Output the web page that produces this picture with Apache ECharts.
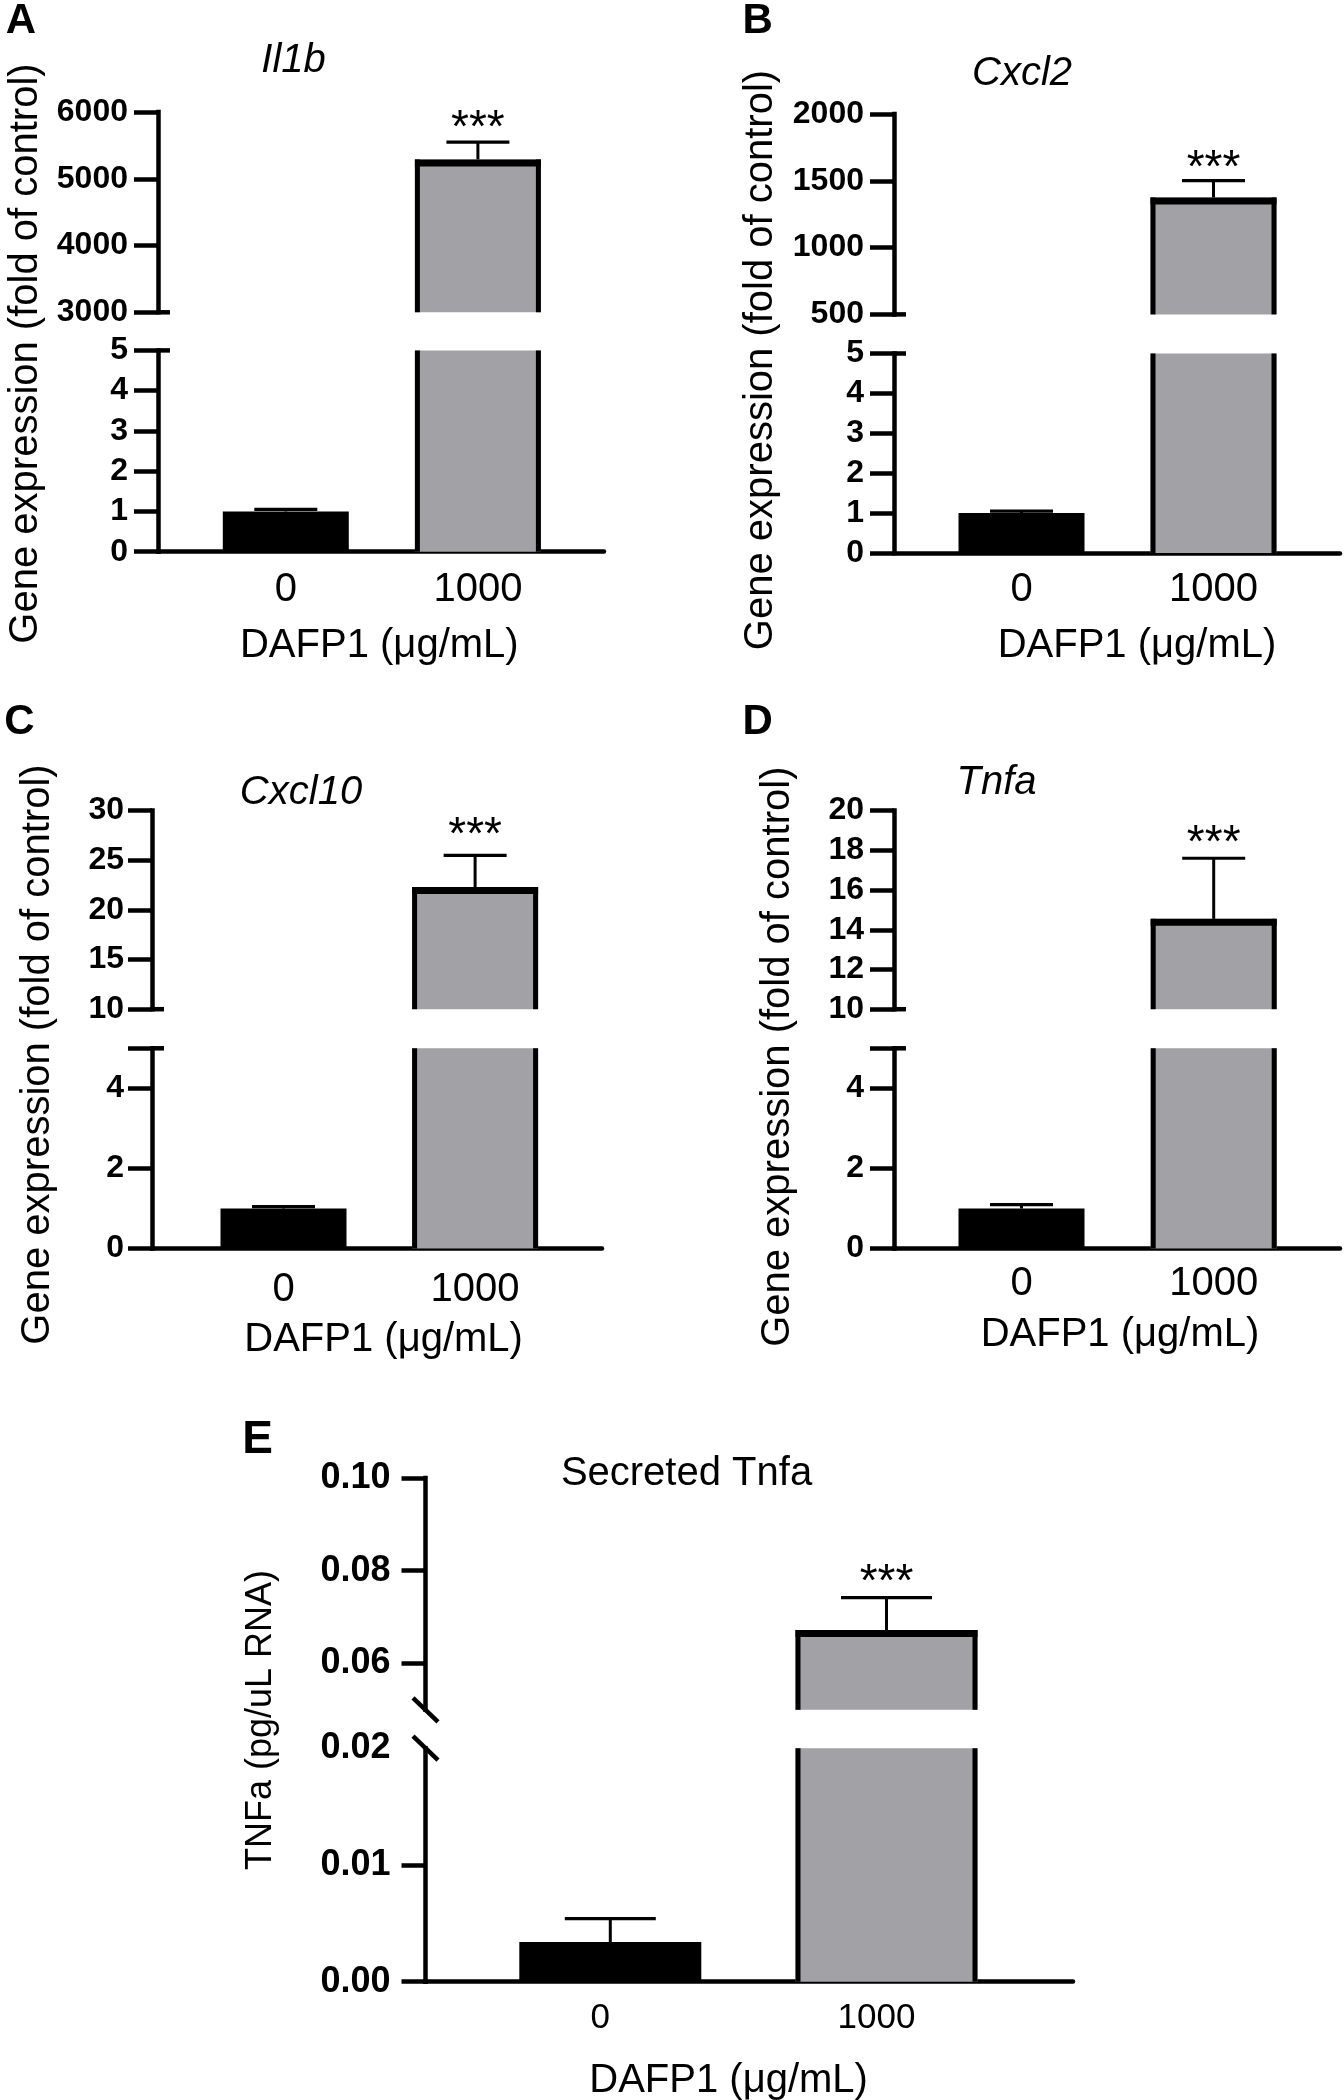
<!DOCTYPE html>
<html>
<head>
<meta charset="utf-8">
<script src="https://cdn.jsdelivr.net/npm/echarts@6/dist/echarts.min.js"></script>
<style>
html,body{margin:0;padding:0;background:#ffffff;}
#chart{width:1344px;height:2100px;}
</style>
</head>
<body>
<div id="chart"></div>
<script>
// ---------------- DATA ----------------
const categories = ['0', '1000'];
const significance = ['', '***'];
const panelLetters = ['A', 'B', 'C', 'D', 'E'];
const panelTitles = ['Il1b', 'Cxcl2', 'Cxcl10', 'Tnfa', 'Secreted Tnfa'];
const geneYTitle = 'Gene expression (fold of control)';
const secretedYTitle = 'TNFa (pg/uL RNA)';
const xAxisTitle = 'DAFP1 (μg/mL)';

const il1bMean = [1.0, 5290];
const il1bSem = [0.05, 260];
const cxcl2Mean = [1.0, 1375];
const cxcl2Sem = [0.05, 127];
const cxcl10Mean = [1.0, 22.3];
const cxcl10Sem = [0.05, 3.2];
const tnfaMean = [1.0, 14.55];
const tnfaSem = [0.1, 3.05];
const secretedMean = [0.0034, 0.0672];
const secretedSem = [0.002, 0.007];

// broken-axis segments [min, max] and tick labels
const il1bUpperRange = [3000, 6000];
const il1bLowerRange = [0, 5];
const il1bUpperTicks = [3000, 4000, 5000, 6000];
const il1bLowerTicks = [0, 1, 2, 3, 4, 5];

const cxcl2UpperRange = [500, 2000];
const cxcl2LowerRange = [0, 5];
const cxcl2UpperTicks = [500, 1000, 1500, 2000];
const cxcl2LowerTicks = [0, 1, 2, 3, 4, 5];

const cxcl10UpperRange = [10, 30];
const cxcl10LowerRange = [0, 5];
const cxcl10UpperTicks = [10, 15, 20, 25, 30];
const cxcl10LowerTicks = [0, 2, 4];

const tnfaUpperRange = [10, 20];
const tnfaLowerRange = [0, 5];
const tnfaUpperTicks = [10, 12, 14, 16, 18, 20];
const tnfaLowerTicks = [0, 2, 4];

const secretedUpperRange = [0.05, 0.10];
const secretedLowerRange = [0, 0.02];
const secretedUpperTicks = [0.06, 0.08, 0.10];
const secretedLowerTicks = [0, 0.01, 0.02];

// ---------------- STYLE / LAYOUT ----------------
const FONT = '"Liberation Sans", Arial, Helvetica, sans-serif';
const barFills = ['#000000', '#a2a1a6'];
const barOutlined = [false, true];
const AXIS_W = 4.5;
const STAR_FONT = 46;

const panels = [
  { mean: il1bMean, sem: il1bSem, upper: il1bUpperRange, lower: il1bLowerRange,
    upperTicks: il1bUpperTicks, lowerTicks: il1bLowerTicks, breakStyle: 'cap', decimals: 0,
    L: { left: 158, right: 604, c0: 285.8, c1: 477.9, up: [112, 312.3], lo: [350.4, 551.7],
         barW: 126, xLabelMargin: 18, xLabelFont: 40, xLabelShift: 0, yLabelFont: 32, yLabelMargin: 30, starGap: 23,
         letter: [21, 21.7, 42], title: [293.6, 60.7], yTitle: [26, 353.5, 40], xTitle: [379.3, 646] } },
  { mean: cxcl2Mean, sem: cxcl2Sem, upper: cxcl2UpperRange, lower: cxcl2LowerRange,
    upperTicks: cxcl2UpperTicks, lowerTicks: cxcl2LowerTicks, breakStyle: 'cap', decimals: 0,
    L: { left: 894, right: 1340, c0: 1021.5, c1: 1213.5, up: [114, 314.4], lo: [353.5, 553],
         barW: 126, xLabelMargin: 17, xLabelFont: 40, xLabelShift: 0, yLabelFont: 32, yLabelMargin: 30, starGap: 21,
         letter: [757.7, 21.7, 42], title: [1022, 73.7], yTitle: [761, 360, 40], xTitle: [1137, 646] } },
  { mean: cxcl10Mean, sem: cxcl10Sem, upper: cxcl10UpperRange, lower: cxcl10LowerRange,
    upperTicks: cxcl10UpperTicks, lowerTicks: cxcl10LowerTicks, breakStyle: 'cap', decimals: 0,
    L: { left: 152, right: 602, c0: 283.5, c1: 475.1, up: [810.6, 1009.2], lo: [1048.3, 1248.6],
         barW: 126, xLabelMargin: 21, xLabelFont: 40, xLabelShift: 0, yLabelFont: 32, yLabelMargin: 28, starGap: 29,
         letter: [19.3, 722.8, 42], title: [301, 793], yTitle: [37.5, 1054.5, 40], xTitle: [383.6, 1339.7] } },
  { mean: tnfaMean, sem: tnfaSem, upper: tnfaUpperRange, lower: tnfaLowerRange,
    upperTicks: tnfaUpperTicks, lowerTicks: tnfaLowerTicks, breakStyle: 'cap', decimals: 0,
    L: { left: 894, right: 1340, c0: 1021.5, c1: 1213.7, up: [810.6, 1009.2], lo: [1048.3, 1248.6],
         barW: 126, xLabelMargin: 15, xLabelFont: 40, xLabelShift: 0, yLabelFont: 32, yLabelMargin: 30, starGap: 24,
         letter: [757.7, 722.8, 42], title: [996.6, 782.4], yTitle: [778, 1056.7, 40], xTitle: [1120, 1335.4] } },
  { mean: secretedMean, sem: secretedSem, upper: secretedUpperRange, lower: secretedLowerRange,
    upperTicks: secretedUpperTicks, lowerTicks: secretedLowerTicks, breakStyle: 'slash', decimals: 2,
    L: { left: 425.5, right: 1073, c0: 610.3, c1: 886.5, up: [1478, 1709.8], lo: [1748.2, 1981.7],
         barW: 182, xLabelMargin: 19, xLabelFont: 35, xLabelShift: -10, yLabelFont: 36, yLabelMargin: 35, starGap: 24,
         letter: [257.5, 1440.5, 46], title: [686.5, 1473.7], yTitle: [261.5, 1720, 36], xTitle: [728.6, 2080.8] } }
];

// ---------------- BUILD OPTION ----------------
const grids = [], xAxes = [], yAxes = [], series = [], graphics = [];

function makeBarRender(range, L) {
  return function (params, api) {
    const x = api.value(0), v = api.value(1), e = api.value(2), k = api.value(3);
    const lo = range[0], hi = range[1];
    if (v <= lo) return null;
    const base = api.coord([x, lo]);
    const top = api.coord([x, Math.min(v, hi)]);
    const w = L.barW, cx = base[0];
    const l = cx - w / 2, r = cx + w / 2;
    const children = [];
    children.push({ type: 'rect', shape: { x: l, y: top[1], width: w, height: base[1] - top[1] },
      style: { fill: barFills[k] } });
    if (barOutlined[k]) {
      const sw = 5, tw = 7;
      children.push({ type: 'line', shape: { x1: l + sw / 2, y1: base[1], x2: l + sw / 2, y2: top[1] },
        style: { stroke: '#000', lineWidth: sw } });
      children.push({ type: 'line', shape: { x1: r - sw / 2, y1: base[1], x2: r - sw / 2, y2: top[1] },
        style: { stroke: '#000', lineWidth: sw } });
      if (v <= hi) {
        children.push({ type: 'rect', shape: { x: l, y: top[1], width: w, height: tw }, style: { fill: '#000' } });
      }
    }
    if (v <= hi && e > 0) {
      const et = api.coord([x, Math.min(v + e, hi)]);
      children.push({ type: 'line', shape: { x1: cx, y1: top[1], x2: cx, y2: et[1] },
        style: { stroke: '#000', lineWidth: 3 } });
      children.push({ type: 'line', shape: { x1: cx - w / 4, y1: et[1], x2: cx + w / 4, y2: et[1] },
        style: { stroke: '#000', lineWidth: 3.2 } });
      const sig = significance[params.dataIndex];
      if (sig) {
        children.push({ type: 'text', style: { text: sig, x: cx, y: et[1] - L.starGap + 0.22 * STAR_FONT,
          align: 'center', verticalAlign: 'middle', textAlign: 'center', textVerticalAlign: 'middle',
          fontSize: STAR_FONT, fontFamily: FONT, fill: '#000' } });
      }
    }
    return { type: 'group', children: children };
  };
}

function makeBreakRender(style) {
  return function (params, api) {
    const p = api.coord([api.value(0), api.value(1)]);
    if (style === 'cap') {
      return { type: 'line', shape: { x1: p[0], y1: p[1], x2: p[0] + 12, y2: p[1] },
        style: { stroke: '#000', lineWidth: AXIS_W } };
    }
    return { type: 'line', shape: { x1: p[0] - 12.5, y1: p[1] - 12, x2: p[0] + 12.5, y2: p[1] + 12 },
      style: { stroke: '#000', lineWidth: AXIS_W } };
  };
}

panels.forEach(function (P, pi) {
  const L = P.L;
  const span = L.c1 - L.c0;
  const xMin = -(L.c0 - L.left) / span;
  const xMax = 1 + (L.right - L.c1) / span;
  const segs = [
    { key: 'upper', range: P.upper, labels: P.upperTicks, px: L.up, breakValue: P.upper[0] },
    { key: 'lower', range: P.lower, labels: P.lowerTicks, px: L.lo, breakValue: P.lower[1] }
  ];
  segs.forEach(function (S) {
    const g = grids.length;
    grids.push({ left: L.left, top: S.px[0], width: L.right - L.left, height: S.px[1] - S.px[0],
      containLabel: false, outerBoundsMode: 'none' });
    const isLower = S.key === 'lower';
    xAxes.push({
      gridIndex: g, type: 'value', min: xMin, max: xMax, show: isLower, position: 'bottom',
      axisLine: { show: true, onZero: false, lineStyle: { color: '#000', width: AXIS_W } },
      axisTick: { show: false }, splitLine: { show: false },
      axisLabel: { show: isLower, customValues: [0, 1], margin: L.xLabelMargin,
        formatter: function (v) { return categories[Math.round(v)]; },
        fontSize: L.xLabelFont, fontFamily: FONT, color: '#000',
        padding: L.xLabelShift ? [0, -2 * L.xLabelShift, 0, 0] : 0 }
    });
    let tickVals;
    if (P.breakStyle === 'cap') {
      tickVals = S.labels.slice();
      if (tickVals.indexOf(S.breakValue) < 0) tickVals.push(S.breakValue);
    } else {
      tickVals = S.labels.filter(function (t) { return Math.abs(t - S.breakValue) > 1e-9; });
    }
    yAxes.push({
      gridIndex: g, type: 'value', min: S.range[0], max: S.range[1], position: 'left',
      axisLine: { show: true, onZero: false, lineStyle: { color: '#000', width: AXIS_W, cap: 'square' } },
      axisTick: { show: true, length: 24, customValues: tickVals, lineStyle: { color: '#000', width: AXIS_W } },
      splitLine: { show: false },
      axisLabel: { customValues: S.labels, margin: L.yLabelMargin, fontSize: L.yLabelFont, fontWeight: 'bold',
        fontFamily: FONT, color: '#000',
        formatter: function (v) { return Number(v).toFixed(P.decimals); } }
    });
    const data = P.mean.map(function (m, i) { return [i, m, P.sem[i], i]; });
    series.push({ type: 'custom', xAxisIndex: g, yAxisIndex: g, clip: false, silent: true,
      renderItem: makeBarRender(S.range, L), data: data, z: 3 });
    series.push({ type: 'custom', xAxisIndex: g, yAxisIndex: g, clip: false, silent: true,
      renderItem: makeBreakRender(P.breakStyle), data: [[xMin, S.breakValue]], z: 4 });
  });

  graphics.push({ type: 'text', x: L.letter[0], y: L.letter[1],
    style: { text: panelLetters[pi], fontSize: L.letter[2], fontWeight: 'bold', fontFamily: FONT, fill: '#000',
      align: 'center', verticalAlign: 'middle' } });
  graphics.push({ type: 'text', x: L.title[0], y: L.title[1],
    style: { text: panelTitles[pi], fontSize: 40, fontStyle: pi < 4 ? 'italic' : 'normal', fontFamily: FONT,
      fill: '#000', align: 'center', verticalAlign: 'middle' } });
  graphics.push({ type: 'text', x: L.yTitle[0], y: L.yTitle[1], rotation: Math.PI / 2,
    style: { text: pi < 4 ? geneYTitle : secretedYTitle, fontSize: L.yTitle[2], fontFamily: FONT, fill: '#000',
      align: 'center', verticalAlign: 'middle' } });
  graphics.push({ type: 'text', x: L.xTitle[0], y: L.xTitle[1],
    style: { text: xAxisTitle, fontSize: 40, fontFamily: FONT, fill: '#000',
      align: 'center', verticalAlign: 'middle' } });
});

const chart = echarts.init(document.getElementById('chart'), null, { renderer: 'canvas', width: 1344, height: 2100 });
chart.setOption({
  backgroundColor: '#ffffff',
  animation: false,
  textStyle: { fontFamily: FONT, color: '#000' },
  grid: grids,
  xAxis: xAxes,
  yAxis: yAxes,
  series: series,
  graphic: { elements: graphics }
});
</script>
</body>
</html>
